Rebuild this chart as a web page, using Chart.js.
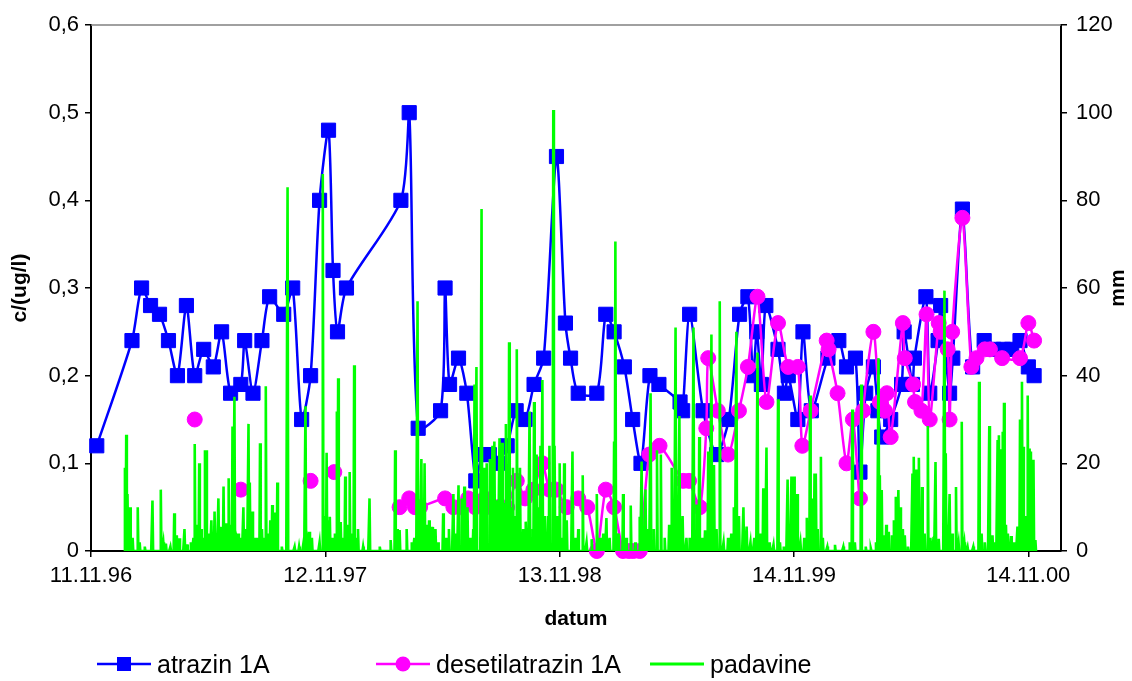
<!DOCTYPE html>
<html>
<head>
<meta charset="utf-8">
<script src="https://cdn.jsdelivr.net/npm/chart.js@4.4.0/dist/chart.umd.min.js"></script>
<style>
  body { margin: 0; background: #fff; }
  #wrap { position: relative; width: 1132px; height: 681px; }
  .leg { position: absolute; top: 651px; height: 26px; display: flex; align-items: center;
         font: 25px 'Liberation Sans', Arial, sans-serif; color: #000; white-space: nowrap; }
  .leg svg { margin-right: 6px; }
</style>
</head>
<body>
<div id="wrap">
  <canvas id="myChart" width="1132" height="681"></canvas>
  <div class="leg" style="left:97px">
    <svg width="54" height="26"><line x1="0" y1="13" x2="54" y2="13" stroke="#0000ff" stroke-width="2.5"/><rect x="20" y="6" width="14" height="14" fill="#0000ff"/></svg>atrazin 1A
  </div>
  <div class="leg" style="left:376px">
    <svg width="54" height="26"><line x1="0" y1="13" x2="54" y2="13" stroke="#ff00ff" stroke-width="2.5"/><circle cx="27" cy="13" r="7.5" fill="#ff00ff"/></svg>desetilatrazin 1A
  </div>
  <div class="leg" style="left:650px">
    <svg width="54" height="26"><line x1="0" y1="13" x2="54" y2="13" stroke="#00ff00" stroke-width="3"/></svg>padavine
  </div>
</div>
<script>
// os x: dnevi od 11.11.96
var xTickDni = [0, 366, 732, 1098, 1464];
var xTickLabels = ['11.11.96', '12.11.97', '13.11.98', '14.11.99', '14.11.00'];

// atrazin 1A (ug/l)
var atrDnevi = [
  9, 64, 79, 93, 107, 121, 135, 149, 162, 176,
  191, 204, 218, 234, 240, 253, 267, 279, 301, 315,
  329, 343, 357, 371, 378, 385, 399, 484, 497, 511,
  546, 553, 560, 574, 587, 601, 611, 622, 635, 650,
  664, 678, 692, 707, 727, 741, 749, 761, 790, 804,
  817, 833, 846, 859, 873, 887, 920, 924, 935, 956,
  977, 996, 1013, 1026, 1034, 1040, 1047, 1054, 1073, 1083,
  1089, 1104, 1112, 1125, 1151, 1168, 1180, 1194, 1201, 1210,
  1222, 1229, 1235, 1249, 1266, 1270, 1283, 1286, 1304, 1310,
  1323, 1327, 1341, 1346, 1361, 1377, 1395, 1410, 1425, 1438,
  1451, 1464, 1473
];
var atrazin = [
  0.12, 0.24, 0.30, 0.28, 0.27, 0.24, 0.20, 0.28, 0.20, 0.23,
  0.21, 0.25, 0.18, 0.19, 0.24, 0.18, 0.24, 0.29, 0.27, 0.30,
  0.15, 0.20, 0.40, 0.48, 0.32, 0.25, 0.30, 0.40, 0.50, 0.14,
  0.16, 0.30, 0.19, 0.22, 0.18, 0.08, 0.11, 0.11, 0.10, 0.12,
  0.16, 0.15, 0.19, 0.22, 0.45, 0.26, 0.22, 0.18, 0.18, 0.27,
  0.25, 0.21, 0.15, 0.10, 0.20, 0.19, 0.17, 0.16, 0.27, 0.16,
  0.11, 0.15, 0.27, 0.29, 0.20, 0.25, 0.19, 0.28, 0.23, 0.18,
  0.20, 0.15, 0.25, 0.16, 0.22, 0.24, 0.21, 0.22, 0.09, 0.18,
  0.21, 0.16, 0.13, 0.15, 0.19, 0.25, 0.19, 0.22, 0.29, 0.18,
  0.24, 0.28, 0.18, 0.22, 0.39, 0.21, 0.24, 0.23, 0.23, 0.23,
  0.24, 0.21, 0.20
];

// desetilatrazin 1A (ug/l), null = ni meritve
var desDnevi = [
  162, 176, 234, 240, 343, 357, 380, 399, 482, 497,
  506, 514, 553, 566, 577, 589, 600, 615, 625, 636,
  650, 665, 678, 691, 705, 716, 727, 743, 761, 775,
  790, 804, 817, 831, 840, 847, 857, 872, 888, 925,
  934, 951, 961, 964, 979, 995, 1012, 1026, 1041, 1055,
  1073, 1089, 1104, 1111, 1124, 1149, 1152, 1166, 1180, 1190,
  1201, 1206, 1222, 1232, 1240, 1243, 1249, 1268, 1271, 1284,
  1287, 1297, 1305, 1310, 1324, 1327, 1338, 1341, 1345, 1361,
  1375, 1383, 1396, 1404, 1423, 1451, 1464, 1473
];
var desetil = [
  0.15, null, 0.07, null, 0.08, null, 0.09, null, 0.05, 0.06,
  0.05, 0.05, 0.06, 0.05, 0.05, 0.06, 0.05, 0.06, 0.05, 0.05,
  0.05, 0.08, 0.06, 0.07, 0.10, 0.07, 0.07, 0.05, 0.06, 0.05,
  0, 0.07, 0.05, 0, 0, 0, 0, 0.11, 0.12, 0.08,
  0.08, 0.05, 0.14, 0.22, 0.16, 0.11, 0.16, 0.21, 0.29, 0.17,
  0.26, 0.21, 0.21, 0.12, 0.16, 0.24, 0.23, 0.18, 0.10, 0.15,
  0.06, 0.16, 0.25, 0.17, 0.16, 0.18, 0.13, 0.26, 0.22, 0.19,
  0.17, 0.16, 0.27, 0.15, 0.26, 0.25, 0.23, 0.15, 0.25, 0.38,
  0.21, 0.22, 0.23, 0.23, 0.22, 0.22, 0.26, 0.24
];

// padavine (mm), samo dnevi z dezjem
var padDnevi = [
  53, 55, 57, 61, 65, 73, 76, 84, 96, 109,
  113, 117, 124, 130, 134, 138, 146, 150, 156, 160,
  162, 165, 169, 172, 175, 178, 180, 185, 188, 191,
  193, 196, 199, 202, 205, 207, 211, 213, 215, 219,
  221, 224, 227, 230, 234, 238, 242, 246, 248, 252,
  256, 259, 262, 264, 267, 270, 273, 276, 280, 283,
  286, 289, 291, 298, 307, 318, 325, 332, 335, 338,
  341, 345, 357, 362, 366, 368, 371, 373, 377, 381,
  384, 386, 390, 394, 397, 400, 404, 408, 411, 415,
  417, 425, 435, 451, 468, 475, 478, 482, 493, 501,
  505, 510, 513, 516, 519, 521, 525, 528, 533, 538,
  542, 550, 555, 559, 566, 570, 574, 579, 583, 588,
  592, 597, 599, 602, 610, 614, 618, 623, 627, 630,
  633, 638, 642, 646, 648, 653, 657, 659, 662, 665,
  668, 670, 675, 679, 685, 690, 692, 696, 700, 702,
  705, 709, 714, 716, 722, 724, 728, 732, 735, 739,
  743, 752, 756, 761, 768, 774, 782, 790, 795, 800,
  805, 810, 817, 819, 824, 831, 836, 843, 850, 857,
  860, 866, 870, 874, 879, 884, 890, 896, 903, 907,
  913, 919, 924, 930, 935, 941, 946, 950, 955, 959,
  964, 969, 973, 977, 982, 988, 995, 1000, 1004, 1008,
  1012, 1019, 1024, 1030, 1036, 1041, 1046, 1050, 1055, 1060,
  1066, 1073, 1076, 1082, 1088, 1091, 1094, 1098, 1101, 1103,
  1108, 1114, 1118, 1123, 1125, 1128, 1130, 1132, 1135, 1140,
  1143, 1150, 1162, 1175, 1185, 1189, 1193, 1203, 1210, 1218,
  1226, 1230, 1232, 1235, 1239, 1242, 1246, 1251, 1254, 1257,
  1261, 1264, 1268, 1271, 1276, 1283, 1285, 1289, 1293, 1296,
  1298, 1302, 1307, 1311, 1316, 1319, 1324, 1333, 1335, 1338,
  1341, 1345, 1351, 1355, 1360, 1364, 1369, 1378, 1387, 1391,
  1396, 1403, 1408, 1412, 1416, 1418, 1421, 1424, 1426, 1429,
  1432, 1437, 1442, 1447, 1451, 1454, 1456, 1459, 1463, 1466,
  1468, 1472, 1475
];
var padMm = [
  19, 26.5, 13, 10, 3, 10, 2, 1, 11.5, 14,
  2, 1.7, 1, 8.6, 3.6, 2.9, 5, 1.5, 2, 3,
  24.4, 6, 20, 5, 3, 23, 23, 4, 7, 3,
  9, 4, 12, 5.5, 3, 14.7, 6.3, 2, 16.6, 6,
  28.4, 35.2, 2, 4, 3, 10, 5, 29, 15.6, 9,
  3, 3, 2, 24.6, 5, 3, 37.6, 4, 7, 10.5,
  8.8, 3, 15.6, 1, 83, 1, 1, 2, 33, 2,
  4.4, 3, 2, 86, 8, 22.4, 7, 7.8, 3, 4,
  31.8, 39.4, 6.6, 3, 17, 6, 18, 4, 42.4, 3,
  5, 1, 12, 1, 2.5, 23, 5, 4.8, 5, 2,
  3, 57, 6, 21, 8, 20, 6, 7, 5.5, 5,
  2, 8.6, 3, 5, 13, 4, 15, 12, 14.7, 10,
  3, 5, 38, 42, 78, 19, 20, 21, 24, 25,
  11.6, 25.7, 24.7, 11, 29, 47.6, 10, 19, 8, 46,
  17, 19, 5, 6.7, 31.8, 5, 34, 22, 10, 24,
  39, 8, 8, 24, 100.6, 24, 8, 20, 3, 20,
  7, 22.7, 3, 5, 17.3, 2, 2.7, 13, 3, 4,
  7.5, 3, 25, 70.6, 4, 13, 3, 10.4, 2, 7.8,
  20.4, 14, 5, 36, 5, 23, 22, 3, 6, 19,
  51, 30.8, 8, 3, 3, 51, 10.6, 26, 3, 4.7,
  22.7, 49.4, 19.6, 5, 57, 2, 3, 4, 10, 50,
  8, 10, 5.6, 2, 3, 45.3, 4, 14.3, 23.6, 2,
  1.5, 34.6, 2, 1, 16.3, 5, 17, 17, 6, 13,
  2, 3, 7.6, 35.5, 12, 6, 17.7, 17.7, 5, 21.5,
  3, 1, 1.4, 1, 2, 32.3, 2, 38, 1, 0.6,
  2, 44, 17.3, 13.9, 3.6, 6, 4.4, 3.6, 7, 12.4,
  13.9, 10, 5, 3.6, 1, 17.7, 21.5, 18.6, 21.3, 8,
  14.6, 4, 28.5, 3, 3.2, 20.3, 2.8, 59.4, 22.3, 6,
  13, 4, 14.6, 2, 29.5, 2, 1, 1, 38.6, 4,
  2, 28.5, 3.6, 2, 25.3, 26.4, 23.2, 27.2, 33.8, 6,
  4, 3.4, 2, 5.6, 30, 38.6, 23.8, 8, 35.5, 23.4,
  22.7, 20.8, 2.5
];

var FONT = "'Liberation Sans', Arial, sans-serif";

// dnevna vrsta: dnevi brez padavin imajo 0 mm
var padPoDnevih = {};
padDnevi.forEach(function (d, i) { padPoDnevih[d] = padMm[i]; });
var padData = [];
for (var d = padDnevi[0] - 1; d <= padDnevi[padDnevi.length - 1] + 1; d++) {
  padData.push({ x: d, y: padPoDnevih[d] || 0 });
}

function tocke(dnevi, vrednosti) {
  return dnevi.map(function (d, i) { return { x: d, y: vrednosti[i] }; });
}

function decimalka(v) {
  return v === 0 ? '0' : v.toFixed(1).replace('.', ',');
}

// zgornji rob in naslov desne osi (obrnjen kot levi)
var okvir = {
  id: 'okvir',
  afterDraw: function (chart) {
    var c = chart.ctx, a = chart.chartArea;
    c.save();
    c.strokeStyle = '#808080';
    c.lineWidth = 1.5;
    c.beginPath();
    c.moveTo(a.left, a.top);
    c.lineTo(a.right, a.top);
    c.stroke();
    c.translate(chart.scales.y1.right - 14, (a.top + a.bottom) / 2);
    c.rotate(-Math.PI / 2);
    c.font = 'bold 21px ' + FONT;
    c.fillStyle = '#000';
    c.textAlign = 'center';
    c.textBaseline = 'middle';
    c.fillText('mm', 0, 0);
    c.restore();
  }
};

var osGrid = { drawOnChartArea: false, color: '#000', lineWidth: 1.5, tickLength: 6 };
var osRob = { color: '#000', width: 2 };
var tickFont = { family: FONT, size: 22 };
var titleFont = { family: FONT, size: 21, weight: 'bold' };

var ctx = document.getElementById('myChart').getContext('2d');

var myChart = new Chart(ctx, {
  type: 'line',
  data: {
    datasets: [{
      label: 'atrazin 1A',
      data: tocke(atrDnevi, atrazin),
      yAxisID: 'y',
      borderColor: '#0000ff',
      backgroundColor: '#0000ff',
      borderWidth: 2.5,
      tension: 0.25,
      pointStyle: 'rect',
      pointRadius: 10,
      pointBorderWidth: 1,
      clip: false,
      order: 2
    }, {
      label: 'desetilatrazin 1A',
      data: tocke(desDnevi, desetil),
      yAxisID: 'y',
      borderColor: '#ff00ff',
      backgroundColor: '#ff00ff',
      borderWidth: 2.5,
      tension: 0.25,
      pointStyle: 'circle',
      pointRadius: 7.5,
      pointBorderWidth: 1,
      clip: false,
      order: 1
    }, {
      label: 'padavine',
      data: padData,
      yAxisID: 'y1',
      borderColor: '#00ff00',
      borderWidth: 2.6,
      pointRadius: 0,
      tension: 0,
      order: 0
    }]
  },
  options: {
    responsive: false,
    animation: false,
    events: [],
    layout: { padding: { top: 25, left: 0, right: 0, bottom: 45 } },
    plugins: { legend: { display: false }, tooltip: { enabled: false } },
    scales: {
      x: {
        type: 'linear',
        min: 0,
        max: 1515,
        afterBuildTicks: function (axis) {
          axis.ticks = xTickDni.map(function (v) { return { value: v }; });
        },
        afterFit: function (axis) { axis.height = 85; },
        ticks: {
          autoSkip: false,
          maxRotation: 0,
          padding: 6,
          color: '#000',
          font: tickFont,
          callback: function (v, i) { return xTickLabels[i]; }
        },
        grid: osGrid,
        border: osRob,
        title: { display: true, text: 'datum', color: '#000', font: titleFont, padding: { top: 4, bottom: 4 } }
      },
      y: {
        position: 'left',
        min: 0,
        max: 0.6,
        afterFit: function (axis) { axis.width = 91; },
        ticks: { stepSize: 0.1, padding: 6, color: '#000', font: tickFont, callback: decimalka },
        grid: osGrid,
        border: osRob,
        title: { display: true, text: 'c/(ug/l)', color: '#000', font: titleFont, padding: { top: 8, bottom: 0 } }
      },
      y1: {
        position: 'right',
        min: 0,
        max: 120,
        afterFit: function (axis) { axis.width = 71; },
        ticks: { stepSize: 20, padding: 9, color: '#000', font: tickFont },
        grid: osGrid,
        border: osRob
      }
    }
  },
  plugins: [okvir]
});
</script>
</body>
</html>
